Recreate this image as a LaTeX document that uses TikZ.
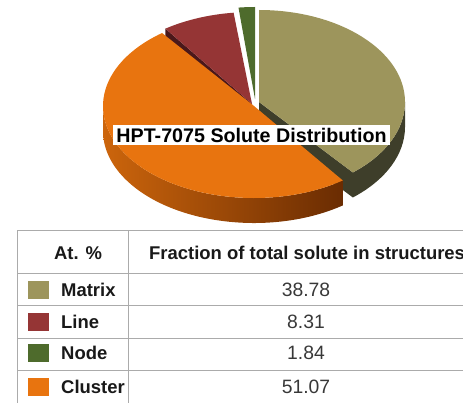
\documentclass[tikz,border=0pt]{standalone}
\usepackage{fontspec}
\setmainfont{Liberation Sans}
\usetikzlibrary{calc}

\definecolor{matrixtop}{HTML}{9D955C}
\definecolor{matrixside}{HTML}{3E3E2A}
\definecolor{linetop}{HTML}{953535}
\definecolor{lineside}{HTML}{4A181A}
\definecolor{nodetop}{HTML}{4E6B2C}
\definecolor{clustertop}{HTML}{E8740F}
\definecolor{clusterlight}{HTML}{CC650C}
\definecolor{clusterdark}{HTML}{6A2C02}
\definecolor{gridgray}{HTML}{ABABAB}

\tikzset{
  pierad/.style={x radius=#1, y radius=92},
  rowtext/.style={font=\fontsize{10.5}{12}\selectfont\bfseries, text=black!90, anchor=west},
  valtext/.style={font=\fontsize{11}{13}\selectfont, text=black!78},
  swatch/.style={minimum width=4.2mm, minimum height=3.6mm, inner sep=0pt},
  gridline/.style={draw=gridgray, line width=0.5pt}
}

\begin{document}
\begin{tikzpicture}[x=0.2mm, y=0.2mm]

\clip (0,0) rectangle (463,-402);

%%%%%%%%%%%%%%%%%%%%%%%%%%%%%%%%%%%%%%%%%%%%%%%%%%%%%%%%%%%%%%%%
% Pie
%%%%%%%%%%%%%%%%%%%%%%%%%%%%%%%%%%%%%%%%%%%%%%%%%%%%%%%%%%%%%%%%

% Slice centres (each slice pulled out a little)
\coordinate (cN) at (255,-99);
\coordinate (cL) at (252,-104);
\coordinate (cM) at (259,-102);
\coordinate (cC) at (254,-106);

% Node
\fill[nodetop] (cN) -- ($(cN)+(90:146 and 92)$)
  arc[start angle=90, end angle=96.5, pierad=146] -- cycle;

% Line
\fill[lineside] (cL) -- ($(cL)+(125:151 and 92)$) -- ++(0,-25) -- ($(cL)+(0,-25)$) -- cycle;
\fill[linetop] (cL) -- ($(cL)+(97:151 and 92)$)
  arc[start angle=97, end angle=125, pierad=151] -- cycle;

% Matrix
\fill[matrixside] (cM) -- ($(cM)+(-50:146 and 92)$) -- ++(0,-25) -- ($(cM)+(0,-25)$) -- cycle;
\fill[matrixside] ($(cM)+(0:146 and 92)$)
  arc[start angle=0, end angle=-50, pierad=146] -- ++(0,-25)
  arc[start angle=-50, end angle=0, pierad=146] -- cycle;
\fill[matrixtop] (cM) -- ($(cM)+(90:146 and 92)$)
  arc[start angle=90, end angle=-50, pierad=146] -- cycle;

% Cluster
\shade[left color=clusterlight, right color=clusterdark] ($(cC)+(180:151 and 92)$)
  arc[start angle=180, end angle=306, pierad=151] -- ++(0,-25)
  arc[start angle=306, end angle=180, pierad=151] -- cycle;
\fill[clustertop] (cC) -- ($(cC)+(127.5:151 and 92)$)
  arc[start angle=127.5, end angle=306, pierad=151] -- cycle;

% Title
\node[fill=white, inner xsep=2pt, inner ysep=1.5pt, font=\fontsize{11.2}{13}\selectfont\bfseries] (title) at (251.5,-135) {HPT-7075 Solute Distribution};

%%%%%%%%%%%%%%%%%%%%%%%%%%%%%%%%%%%%%%%%%%%%%%%%%%%%%%%%%%%%%%%%
% Table
%%%%%%%%%%%%%%%%%%%%%%%%%%%%%%%%%%%%%%%%%%%%%%%%%%%%%%%%%%%%%%%%

% Grid
\draw[gridline] (480,-230) -- (17,-230) -- (17,-410);
\draw[gridline] (128,-230) -- (128,-410);
\foreach \y in {273,305,338,370} {
  \draw[gridline] (17,-\y) -- (480,-\y);
}

% Header
\node[font=\fontsize{10.5}{12}\selectfont\bfseries, text=black!90] (hAt) at (78,-253) {At. \%};
\node[rowtext] (hFrac) at (143,-253) {Fraction of total solute in structures};

% Rows
\node[swatch, fill=matrixtop] (sM) at (38.5,-290) {};
\node[rowtext] (lM) at (55,-290) {Matrix};
\node[valtext] (vM) at (306,-290) {38.78};

\node[swatch, fill=linetop] (sL) at (38.5,-322) {};
\node[rowtext] (lL) at (55,-322) {Line};
\node[valtext] (vL) at (306,-322) {8.31};

\node[swatch, fill=nodetop] (sN) at (38.5,-353) {};
\node[rowtext] (lN) at (55,-353) {Node};
\node[valtext] (vN) at (306,-353) {1.84};

\node[swatch, fill=clustertop] (sC) at (38.5,-387) {};
\node[rowtext] (lC) at (55,-387) {Cluster};
\node[valtext] (vC) at (306,-387) {51.07};

\end{tikzpicture}
\end{document}
